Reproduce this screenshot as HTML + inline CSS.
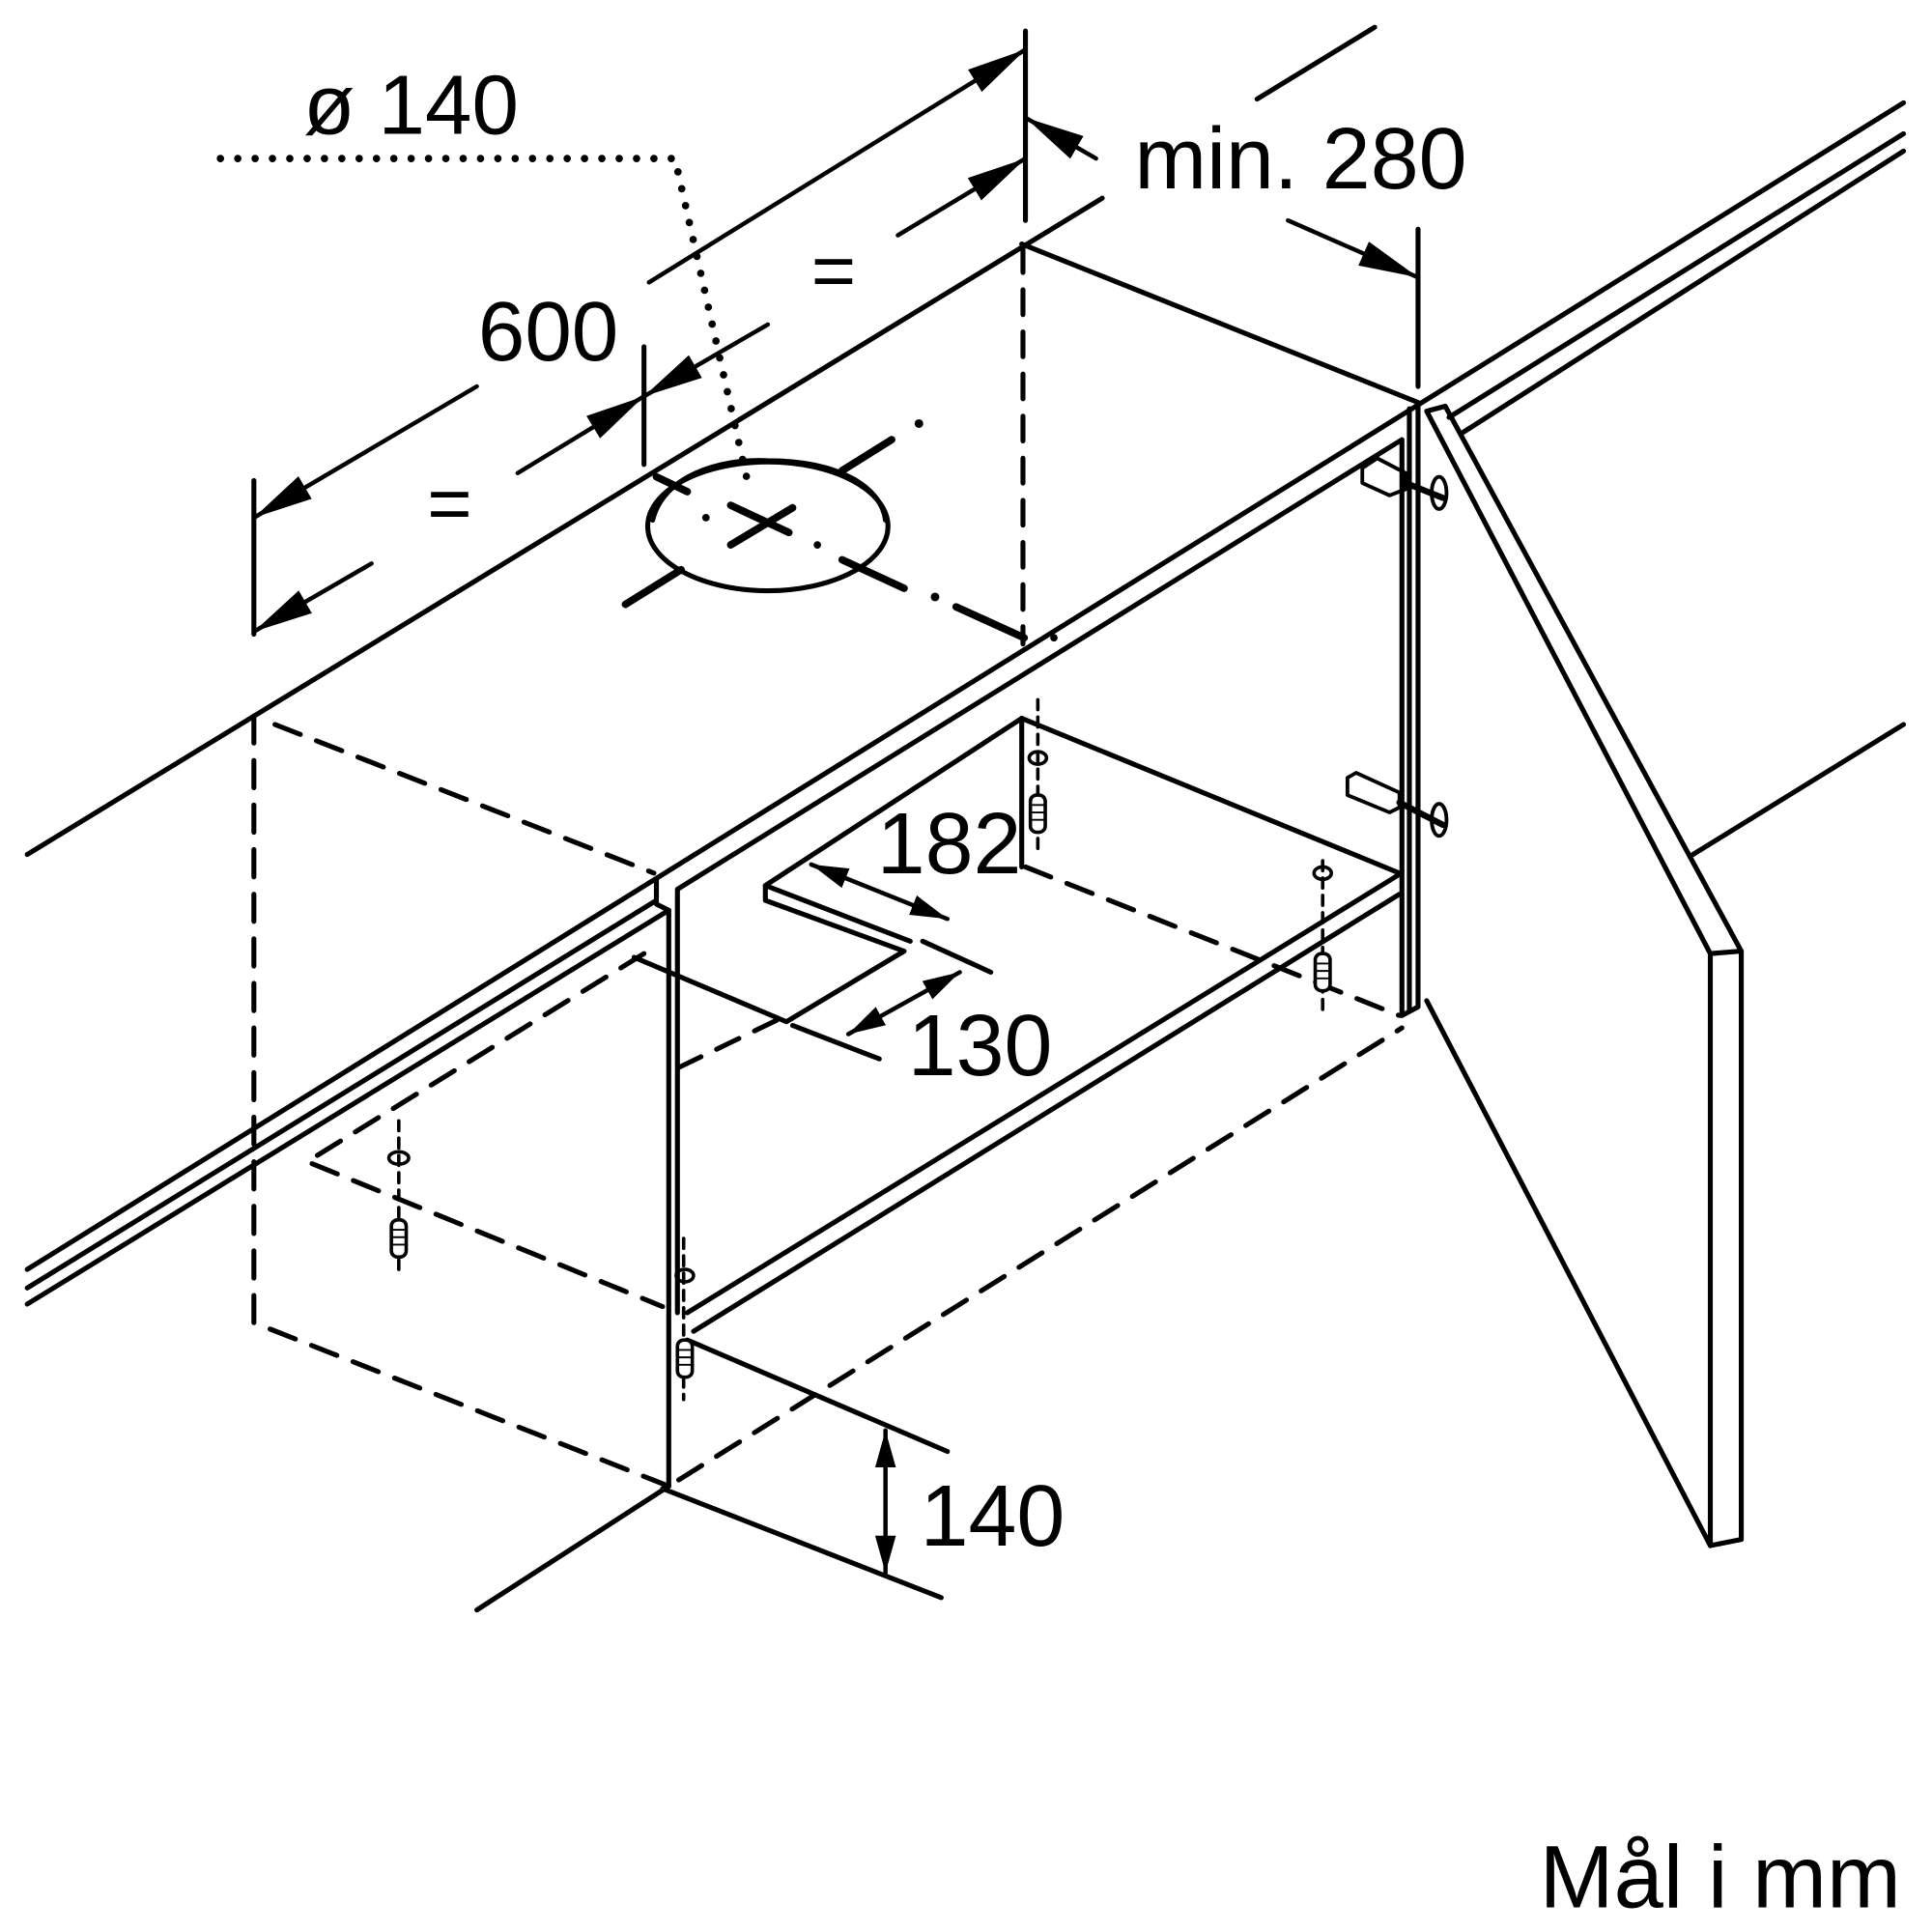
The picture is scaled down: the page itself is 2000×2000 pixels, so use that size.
<!DOCTYPE html>
<html><head><meta charset="utf-8"><style>html,body{margin:0;padding:0;background:#fff}svg{display:block}</style></head>
<body>
<svg width="2000" height="2000" viewBox="0 0 1560 1560" xmlns="http://www.w3.org/2000/svg">
<defs>
<marker id="ar" viewBox="0 0 10 10" refX="10" refY="5" markerWidth="30" markerHeight="30" markerUnits="userSpaceOnUse" orient="auto-start-reverse"><path d="M0,2.2L10,5L0,7.8z"/></marker>
<marker id="aw" viewBox="0 0 10 10" refX="10" refY="5" markerWidth="48" markerHeight="48" markerUnits="userSpaceOnUse" orient="auto-start-reverse"><path d="M0,2.8L10,5L0,7.2z"/></marker>
</defs>
<g fill="none" stroke="#000" stroke-width="4" stroke-linecap="round" stroke-linejoin="round">
<!-- top face -->
<line x1="22" y1="690" x2="890" y2="160"/>
<line x1="825" y1="197" x2="1145" y2="325"/>
<line x1="1015" y1="80" x2="1110" y2="22"/>
<!-- rails -->
<line x1="22" y1="1025" x2="1145" y2="327"/>
<line x1="1145" y1="327" x2="1537" y2="83"/>
<line x1="22" y1="1040" x2="530" y2="727"/>
<line x1="22" y1="1053" x2="540" y2="735"/>
<line x1="1170" y1="337" x2="1537" y2="108"/>
<line x1="1180" y1="350" x2="1537" y2="122"/>
<!-- left hidden edges -->
<path d="M205,578V1068L540,1200" stroke-dasharray="22,14"/>
<path d="M222,585L528,705" stroke-dasharray="22,14"/>
<path d="M520,770L248,938L535,1055" stroke-dasharray="22,14"/>
<path d="M548,862L635,820" stroke-dasharray="20,14"/>
<path d="M548,1195L1132,830" stroke-dasharray="22,14"/>
<path d="M828,700L1130,820" stroke-dasharray="22,14"/>
<path d="M826,200V520" stroke-dasharray="20,14"/>
<!-- front panel -->
<path d="M530,710V730L540,735V1200"/>
<path d="M547,1060V718L1132,355V820L1145,813V325"/>
<line x1="1138" y1="330" x2="1138" y2="815"/>
<line x1="555" y1="1060" x2="1130" y2="706"/>
<line x1="560" y1="1075" x2="1130" y2="722"/>
<!-- inner hood -->
<path d="M825,580L618,715V727L730,768L635,825L512,773"/>
<path d="M618,715L735,760"/>
<path d="M825,580L1130,705"/>
<path d="M825,580V700"/>
<!-- bottom -->
<line x1="555" y1="1082" x2="765" y2="1172"/>
<line x1="540" y1="1200" x2="385" y2="1300"/>
<line x1="535" y1="1202" x2="760" y2="1290"/>
<line x1="715" y1="1155" x2="715" y2="1270" marker-start="url(#ar)" marker-end="url(#ar)" stroke-width="3.5"/>
<!-- 182 & 130 -->
<line x1="745" y1="760" x2="800" y2="785"/>
<line x1="640" y1="828" x2="710" y2="855"/>
<line x1="655" y1="698" x2="765" y2="742" marker-start="url(#ar)" marker-end="url(#ar)" stroke-width="3.5"/>
<line x1="685" y1="835" x2="775" y2="785" marker-start="url(#ar)" marker-end="url(#ar)" stroke-width="3.5"/>
<!-- hole -->
<ellipse cx="620" cy="425" rx="97" ry="52"/>
<path d="M527,420C535,385 580,370 620,372C680,372 712,395 715,420"/>
<g stroke-width="6">
<line x1="505" y1="488" x2="550" y2="460"/>
<line x1="590" y1="440" x2="640" y2="410"/>
<line x1="680" y1="380" x2="720" y2="355"/>
<line x1="530" y1="385" x2="555" y2="397"/>
<line x1="590" y1="408" x2="637" y2="430"/>
<line x1="680" y1="452" x2="730" y2="475"/>
<line x1="772" y1="490" x2="827" y2="515"/>
</g>
<g fill="#000" stroke="none"><circle cx="742" cy="342" r="3.5"/><circle cx="570" cy="418" r="3"/><circle cx="660" cy="440" r="3"/><circle cx="755" cy="482" r="3.5"/><circle cx="851" cy="515" r="3"/></g>
<!-- dotted -->
<path d="M178,128H545L605,395" stroke-width="6" stroke-dasharray="0,14"/>
<!-- dims -->
<line x1="205" y1="388" x2="205" y2="512"/>
<line x1="520" y1="280" x2="520" y2="375"/>
<line x1="828" y1="25" x2="828" y2="178"/>
<line x1="1145" y1="185" x2="1145" y2="312"/>
<line x1="300" y1="455" x2="205" y2="510" marker-end="url(#aw)" stroke-width="3.5"/>
<line x1="418" y1="382" x2="520" y2="320" marker-end="url(#aw)" stroke-width="3.5"/>
<line x1="385" y1="312" x2="205" y2="418" marker-end="url(#aw)" stroke-width="3.5"/>
<line x1="620" y1="262" x2="520" y2="320" marker-end="url(#aw)" stroke-width="3.5"/>
<line x1="524" y1="228" x2="828" y2="40" marker-end="url(#aw)" stroke-width="3.5"/>
<line x1="725" y1="190" x2="828" y2="128" marker-end="url(#aw)" stroke-width="3.5"/>
<line x1="885" y1="128" x2="828" y2="95" marker-end="url(#aw)" stroke-width="3.5"/>
<line x1="1040" y1="178" x2="1145" y2="224" marker-end="url(#aw)" stroke-width="3.5"/>
<!-- door -->
<path d="M1152,332L1167,328L1406,768V1243L1381,1248V770L1152,332"/>
<line x1="1381" y1="770" x2="1406" y2="768"/>
<line x1="1152" y1="808" x2="1381" y2="1248"/>
<line x1="1367" y1="690" x2="1537" y2="585"/>
<!-- hinges -->
<path d="M1100,378L1112,370L1135,382V395L1122,400L1100,390Z" stroke-width="3"/>
<path d="M1088,628L1095,624L1130,640V652L1122,656L1088,642Z" stroke-width="3"/>
<ellipse cx="1162" cy="398" rx="6" ry="13" stroke-width="3"/>
<ellipse cx="1162" cy="662" rx="6" ry="13" stroke-width="3"/>
<line x1="1135" y1="390" x2="1165" y2="402" stroke-width="5"/>
<line x1="1130" y1="648" x2="1165" y2="666" stroke-width="5"/>
<!-- dowels -->
<g stroke-width="2.8">
<line x1="838" y1="565" x2="838" y2="690" stroke-dasharray="8,6"/>
<ellipse cx="838" cy="612" rx="7" ry="5"/><rect x="832" y="642" width="12" height="30" rx="5" fill="#fff"/>
<path d="M832,650h12M832,656h12M832,662h12" stroke-width="1.5"/>
<line x1="1068" y1="695" x2="1068" y2="820" stroke-dasharray="8,6"/>
<ellipse cx="1068" cy="705" rx="7" ry="5"/><rect x="1062" y="770" width="12" height="30" rx="5" fill="#fff"/>
<path d="M1062,778h12M1062,784h12M1062,790h12" stroke-width="1.5"/>
<line x1="322" y1="905" x2="322" y2="1030" stroke-dasharray="8,6"/>
<ellipse cx="322" cy="935" rx="8" ry="5"/><rect x="316" y="985" width="12" height="30" rx="5" fill="#fff"/>
<path d="M316,993h12M316,999h12M316,1005h12" stroke-width="1.5"/>
<line x1="552" y1="1000" x2="552" y2="1130" stroke-dasharray="8,6"/>
<ellipse cx="553" cy="1030" rx="7" ry="5"/><rect x="547" y="1082" width="12" height="30" rx="5" fill="#fff"/>
<path d="M547,1090h12M547,1096h12M547,1102h12" stroke-width="1.5"/>
</g>
</g>
<g font-family="'Liberation Sans',sans-serif" fill="#000">
<text x="245" y="108" font-size="68">ø 140</text>
<text x="916" y="152" font-size="70">min. 280</text>
<text x="386" y="291" font-size="68">600</text>
<text x="655" y="240" font-size="62">=</text>
<text x="345" y="428" font-size="62">=</text>
<text x="708" y="705" font-size="70">182</text>
<text x="733" y="868" font-size="70">130</text>
<text x="743" y="1248" font-size="70">140</text>
<text x="1243" y="1540" font-size="72">Mål i mm</text>
</g>
</svg>
</body></html>
